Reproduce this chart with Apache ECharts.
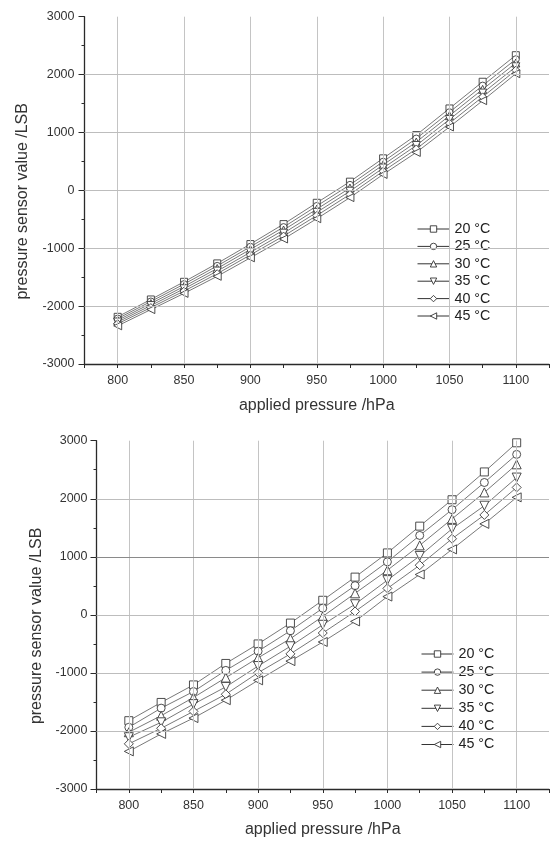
<!DOCTYPE html>
<html><head><meta charset="utf-8">
<script src="https://cdn.jsdelivr.net/npm/echarts@6/dist/echarts.min.js"></script>
<style>
html,body{margin:0;padding:0;background:#fff;}
#c1{position:absolute;left:0;top:0;width:552px;height:421px;}
#c2{position:absolute;left:0;top:421px;width:552px;height:422px;}
</style>
</head><body><div id="c1"></div><div id="c2"></div>
<script>
// ---- data ----
const pressures = [800, 825, 850, 875, 900, 925, 950, 975, 1000, 1025, 1050, 1075, 1100];
const temperatures = ['20 °C', '25 °C', '30 °C', '35 °C', '40 °C', '45 °C'];
const xTickLabels = [800, 850, 900, 950, 1000, 1050, 1100];
const yTickLabels = [-3000, -2000, -1000, 0, 1000, 2000, 3000];
const gridX = [800, 850, 900, 950, 1000, 1050, 1100];
const gridY = [-2000, -1000, 0, 1000, 2000];

// upper chart
const top20 = [-2185, -1885, -1580, -1262, -928, -583, -215, 150, 553, 955, 1415, 1876, 2335];
const top25 = [-2215, -1920, -1620, -1305, -975, -635, -270, 95, 495, 895, 1350, 1810, 2265];
const top30 = [-2245, -1955, -1660, -1350, -1020, -685, -325, 40, 440, 835, 1290, 1745, 2200];
const top35 = [-2275, -1990, -1700, -1395, -1070, -740, -380, -15, 385, 775, 1225, 1680, 2135];
const top40 = [-2305, -2025, -1740, -1440, -1115, -790, -435, -70, 330, 715, 1160, 1615, 2075];
const top45 = [-2340, -2060, -1780, -1485, -1165, -840, -490, -125, 275, 655, 1095, 1550, 2015];

// lower chart
const bottom20 = [-1823, -1509, -1207, -837, -501, -142, 251, 650, 1067, 1528, 1983, 2462, 2964];
const bottom25 = [-1937, -1607, -1321, -957, -626, -274, 115, 503, 913, 1368, 1812, 2280, 2764];
const bottom30 = [-2022, -1737, -1424, -1082, -740, -410, -27, 371, 769, 1197, 1653, 2109, 2593];
const bottom35 = [-2108, -1851, -1538, -1241, -882, -541, -171, 183, 598, 1015, 1482, 1880, 2365];
const bottom40 = [-2222, -1954, -1663, -1368, -997, -672, -313, 58, 456, 855, 1311, 1721, 2195];
const bottom45 = [-2352, -2051, -1778, -1470, -1128, -797, -467, -113, 315, 695, 1128, 1567, 2024];

const symbols = ['rect', 'circle', 'triangle', 'path://M0,0L10,0L5,10Z', 'diamond', 'path://M0,5L10,0L10,10Z'];
const FONT = 'Liberation Sans, Arial, sans-serif';

function makeOption(cfg) {
  const series = cfg.values.map((vals, i) => ({
    type: 'line',
    name: temperatures[i],
    data: pressures.map((p, j) => [p, vals[j]]),
    symbol: symbols[i],
    symbolSize: cfg.sizes[i],
    showAllSymbol: true,
    lineStyle: { color: '#555', width: 0.8 },
    itemStyle: { color: '#fff', borderColor: '#3a3a3a', borderWidth: 0.9 },
    emphasis: { disabled: true },
    z: 3
  }));
  series.push({
    type: 'line',
    data: [],
    silent: true,
    z: 1,
    markLine: {
      silent: true,
      symbol: 'none',
      animation: false,
      label: { show: false },
      emphasis: { disabled: true },
      data: gridX.map(v => ({ xAxis: v, lineStyle: { color: '#c4c4c4', width: 1, type: 'solid' } }))
        .concat(gridY.map(v => ({ yAxis: v, lineStyle: { color: (cfg.darkY === v ? '#8a8a8a' : '#bdbdbd'), width: 1, type: 'solid' } })))
    }
  });
  return {
    backgroundColor: '#fff',
    animation: false,
    textStyle: { fontFamily: FONT },
    grid: { left: cfg.left, top: cfg.top, width: cfg.width, height: cfg.height, containLabel: false },
    xAxis: {
      type: 'value', min: 775, max: 1125, interval: 25,
      axisLine: { show: true, onZero: false, lineStyle: { color: '#2a2a2a', width: 1.3 } },
      axisTick: { show: true, length: 4, lineStyle: { color: '#2a2a2a' } },
      axisLabel: { margin: cfg.xMargin, fontSize: 12.5, color: '#333', fontFamily: FONT,
        formatter: v => xTickLabels.indexOf(v) >= 0 ? String(v) : '' },
      splitLine: { show: false },
      name: 'applied pressure /hPa', nameLocation: 'middle', nameGap: cfg.xNameGap,
      nameTextStyle: { fontSize: 16, color: '#333', fontFamily: FONT }
    },
    yAxis: {
      type: 'value', min: -3000, max: 3000, interval: 1000,
      axisLine: { show: true, onZero: false, lineStyle: { color: '#2a2a2a', width: 1.3 } },
      axisTick: { show: true, length: 6, lineStyle: { color: '#2a2a2a' } },
      minorTick: { show: true, splitNumber: 2, length: 3, lineStyle: { color: '#2a2a2a' } },
      axisLabel: { margin: cfg.yMargin, fontSize: 12.5, color: '#333', fontFamily: FONT,
        formatter: v => yTickLabels.indexOf(v) >= 0 ? String(v) : '' },
      splitLine: { show: false },
      name: 'pressure sensor value /LSB', nameLocation: 'middle', nameGap: cfg.yNameGap,
      nameTextStyle: { fontSize: 16, color: '#333', fontFamily: FONT, padding: [0, 22, 0, 0] }
    },
    legend: {
      orient: 'vertical',
      left: cfg.legLeft, top: cfg.legTop,
      padding: cfg.legPad,
      backgroundColor: '#fff',
      itemWidth: 32, itemHeight: 8, itemGap: cfg.legGap,
      data: temperatures,
      selectedMode: false,
      itemStyle: { color: '#fff', borderColor: '#333', borderWidth: 0.9 },
      lineStyle: { color: '#333', width: 1 },
      textStyle: { fontSize: 14.3, color: '#222', fontFamily: FONT }
    },
    series: series
  };
}

const chart1 = echarts.init(document.getElementById('c1'), null, { renderer: 'canvas' });
chart1.setOption(makeOption({
  values: [top20, top25, top30, top35, top40, top45],
  sizes: [7, 7, 8, 8, 8, 8],
  left: 84.5, top: 16.7, width: 467.5, height: 347.3,
  xMargin: 10, yMargin: 10, xNameGap: 34, yNameGap: 54,
  legLeft: 408, legTop: 205, legPad: [17, 10, 19, 9], legGap: 3.4,
  darkY: null
}));

const chart2 = echarts.init(document.getElementById('c2'), null, { renderer: 'canvas' });
chart2.setOption(makeOption({
  values: [bottom20, bottom25, bottom30, bottom35, bottom40, bottom45],
  sizes: [8, 8, 9, 9, 9, 9],
  left: 96.5, top: 19.7, width: 456.5, height: 351,
  xMargin: 10, yMargin: 9, xNameGap: 33, yNameGap: 52,
  legLeft: 412, legTop: 216, legPad: [10, 10, 12, 9], legGap: 4.1,
  darkY: 1000
}));
</script>
</body></html>
